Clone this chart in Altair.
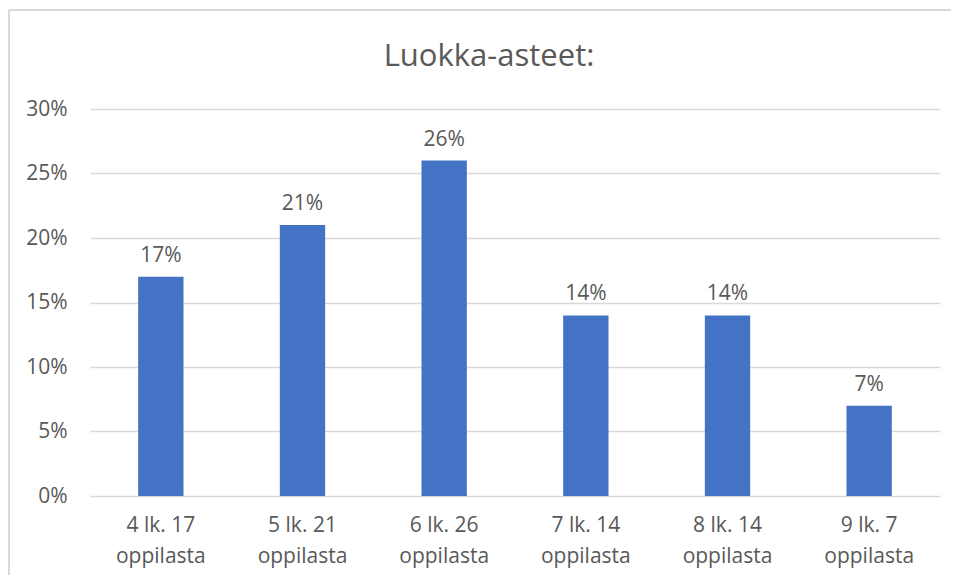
import altair as alt
import pandas as pd

categories = ["4 lk. 17|oppilasta", "5 lk. 21|oppilasta", "6 lk. 26|oppilasta",
              "7 lk. 14|oppilasta", "8 lk. 14|oppilasta", "9 lk. 7|oppilasta"]
shares = [0.17, 0.21, 0.26, 0.14, 0.14, 0.07]
title_text = ["Luokka-asteet:"]

df = pd.DataFrame({"cat": categories, "val": shares})
tdf = pd.DataFrame({"t": title_text})

FONT = "Open Sans"
TXT = "#595959"

x_enc = alt.X("cat:N", sort=categories, title=None,
              scale=alt.Scale(paddingInner=0.68, paddingOuter=0.34),
              axis=alt.Axis(labelAngle=0, domain=False, ticks=False,
                            labelExpr="split(datum.label, '|')",
                            labelFont=FONT, labelFontSize=21, labelColor=TXT,
                            labelLineHeight=31, labelPadding=18))
y_enc = alt.Y("val:Q", title=None,
              scale=alt.Scale(domain=[0, 0.30]),
              axis=alt.Axis(format=".0%", values=[0, 0.05, 0.10, 0.15, 0.20, 0.25, 0.30],
                            domain=False, ticks=False, labelPadding=23,
                            labelFont=FONT, labelFontSize=21, labelColor=TXT,
                            gridColor="#D9D9D9", gridWidth=1.5))

bars = alt.Chart(df).mark_bar(color="#4472C4").encode(x=x_enc, y=y_enc)
labels = alt.Chart(df).mark_text(baseline="bottom", dy=-11, font=FONT,
                                 fontSize=21, color=TXT).encode(
    x=alt.X("cat:N", sort=categories), y="val:Q",
    text=alt.Text("val:Q", format=".0%"))
top_line = alt.Chart(tdf).mark_rule(stroke="#D9D9D9", strokeWidth=2).encode(
    x=alt.value(-81), x2=alt.value(1000), y=alt.value(-99))
left_line = alt.Chart(tdf).mark_rule(stroke="#D9D9D9", strokeWidth=2).encode(
    x=alt.value(-81), y=alt.value(-99), y2=alt.value(700))
title = alt.Chart(tdf).mark_text(font=FONT, fontSize=31, color=TXT,
                                 baseline="middle", align="center").encode(
    x=alt.value(399), y=alt.value(-52), text="t:N")

chart = alt.layer(bars, labels, top_line, left_line, title).properties(
    width=850, height=387,
    autosize=alt.AutoSizeParams(type="none"),
    padding={"left": 82, "top": 101, "right": 11, "bottom": 79},
).configure_view(stroke=None)

chart.save("out.html", embed_options={"renderer": "svg", "actions": False})
